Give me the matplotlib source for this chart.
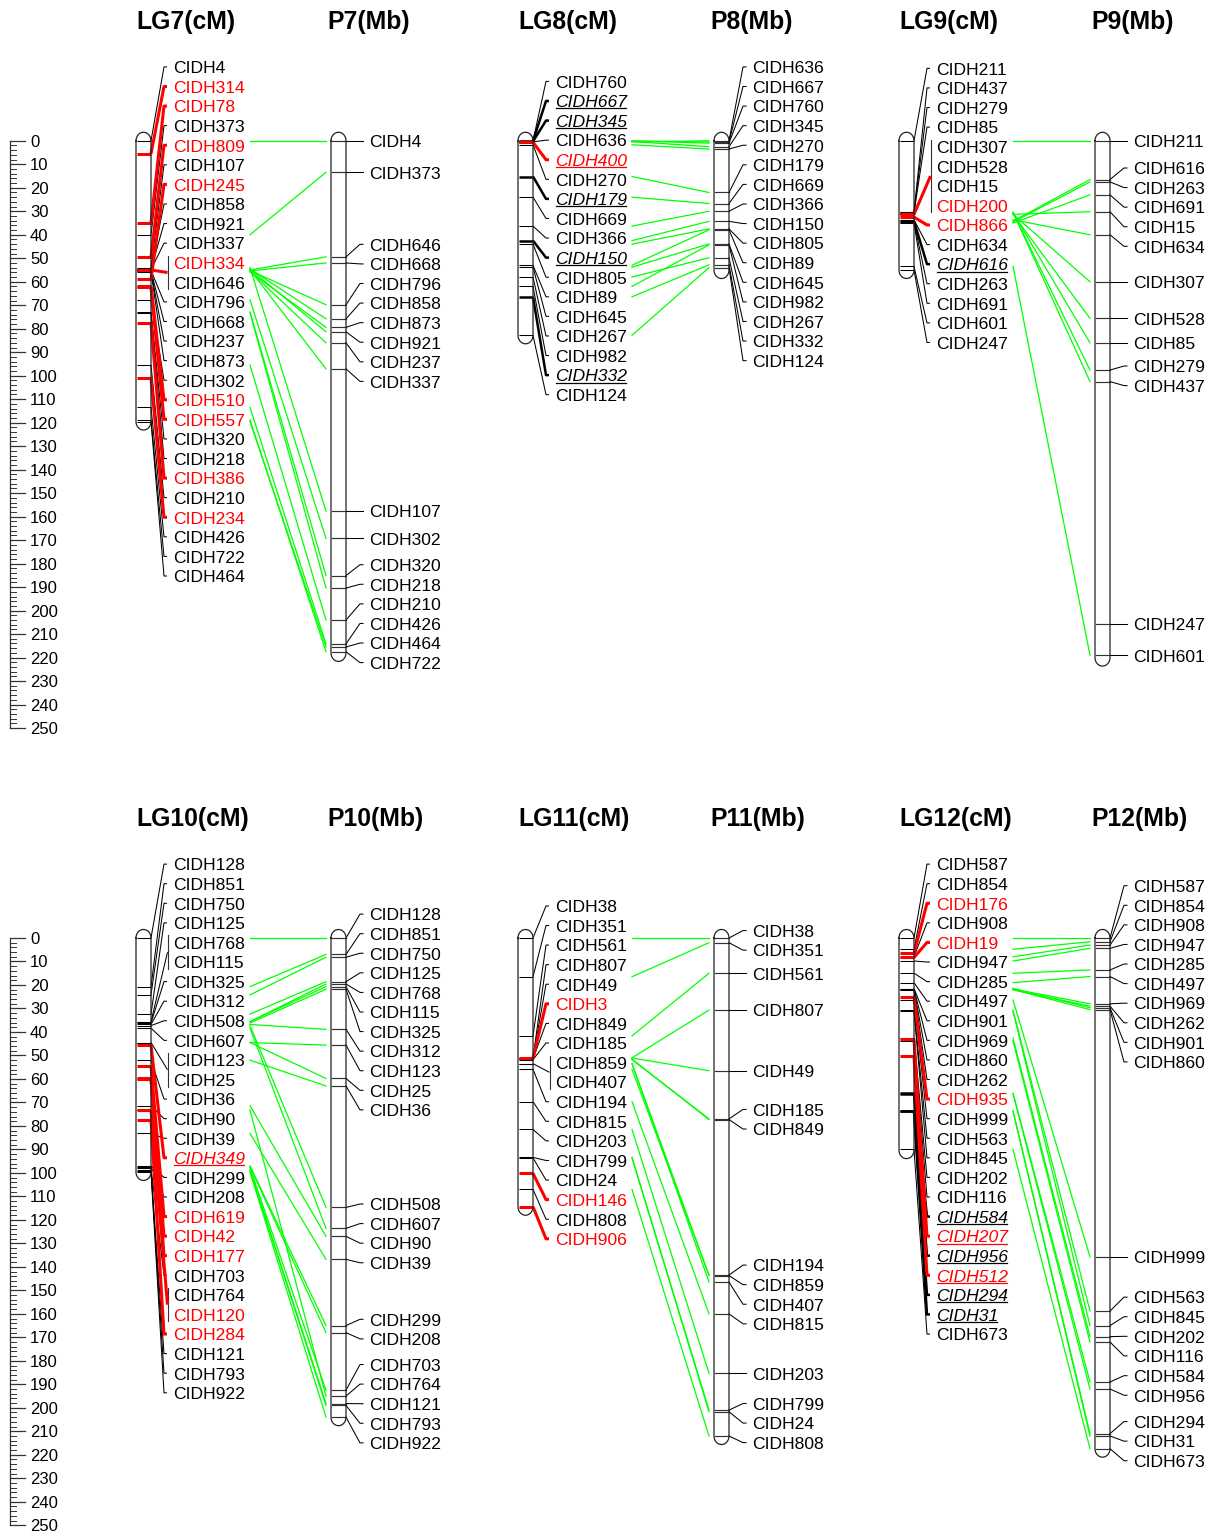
import numpy as np
import matplotlib
matplotlib.use('Agg')
import matplotlib.pyplot as plt

plt.rcParams['font.family'] = ['Liberation Sans', 'DejaVu Sans']

# ----- Datos: mapas de ligamiento (cM) y fisicos (Mb) -----
# tipo: n = normal, r = rojo, u = cursiva subrayada, ru = rojo cursiva subrayada
LG7_MARCADORES = ['CIDH4', 'CIDH314', 'CIDH78', 'CIDH373', 'CIDH809', 'CIDH107', 'CIDH245', 'CIDH858',
                  'CIDH921', 'CIDH337', 'CIDH334', 'CIDH646', 'CIDH796', 'CIDH668', 'CIDH237', 'CIDH873',
                  'CIDH302', 'CIDH510', 'CIDH557', 'CIDH320', 'CIDH218', 'CIDH386', 'CIDH210', 'CIDH234',
                  'CIDH426', 'CIDH722', 'CIDH464']
LG7_CM = [0, 5.5, 35, 40, 49.5, 54.0, 59, 54.5, 54.7, 54.9, 55.0, 55.0, 55.2, 55.4, 55.6, 55.8,
          67.7, 62, 62.3, 72.8, 73.2, 77.5, 95.4, 101, 113.5, 118.8, 119.5]
LG7_TIPO = ['n', 'r', 'r', 'n', 'r', 'n', 'r', 'n', 'n', 'n', 'r', 'n', 'n', 'n', 'n', 'n',
            'n', 'r', 'r', 'n', 'n', 'r', 'n', 'r', 'n', 'n', 'n']
LG7_LARGO = 119.5

P7_MARCADORES = ['CIDH4', 'CIDH373', 'CIDH646', 'CIDH668', 'CIDH796', 'CIDH858', 'CIDH873', 'CIDH921',
                 'CIDH237', 'CIDH337', 'CIDH107', 'CIDH302', 'CIDH320', 'CIDH218', 'CIDH210', 'CIDH426',
                 'CIDH464', 'CIDH722']
P7_MB = [0, 1.34, 4.94, 5.2, 6.98, 7.58, 7.94, 8.13, 8.6, 9.71, 15.76, 16.93, 18.51, 19.04, 20.4,
         21.42, 21.55, 21.75]
P7_LARGO = 21.8

LG8_MARCADORES = ['CIDH760', 'CIDH667', 'CIDH345', 'CIDH636', 'CIDH400', 'CIDH270', 'CIDH179', 'CIDH669',
                  'CIDH366', 'CIDH150', 'CIDH805', 'CIDH89', 'CIDH645', 'CIDH267', 'CIDH982', 'CIDH332',
                  'CIDH124']
LG8_CM = [0, 0.15, 0.3, 0.45, 0.6, 1.7, 15.2, 24, 36.3, 42.5, 44, 53, 53.8, 58, 62, 66.4, 82.8]
LG8_TIPO = ['n', 'u', 'u', 'n', 'ru', 'n', 'u', 'n', 'n', 'u', 'n', 'n', 'n', 'n', 'n', 'u', 'n']
LG8_LARGO = 82.8

P8_MARCADORES = ['CIDH636', 'CIDH667', 'CIDH760', 'CIDH345', 'CIDH270', 'CIDH179', 'CIDH669', 'CIDH366',
                 'CIDH150', 'CIDH805', 'CIDH89', 'CIDH645', 'CIDH982', 'CIDH267', 'CIDH332', 'CIDH124']
P8_MB = [0, 0.05, 0.1, 0.25, 0.35, 2.2, 2.67, 3.0, 3.43, 3.75, 3.79, 4.39, 4.43, 4.98, 5.28, 5.4]
P8_LARGO = 5.5

LG9_MARCADORES = ['CIDH211', 'CIDH437', 'CIDH279', 'CIDH85', 'CIDH307', 'CIDH528', 'CIDH15', 'CIDH200',
                  'CIDH866', 'CIDH634', 'CIDH616', 'CIDH263', 'CIDH691', 'CIDH601', 'CIDH247']
LG9_CM = [0, 30.4, 30.5, 30.6, 31.3, 31.3, 31.3, 31.3, 32.5, 33.6, 34.2, 34.6, 35.0, 53.5, 55.0]
LG9_TIPO = ['n', 'n', 'n', 'n', 'n', 'n', 'n', 'r', 'r', 'n', 'u', 'n', 'n', 'n', 'n']
LG9_LARGO = 55.0

P9_MARCADORES = ['CIDH211', 'CIDH616', 'CIDH263', 'CIDH691', 'CIDH15', 'CIDH634', 'CIDH307', 'CIDH528',
                 'CIDH85', 'CIDH279', 'CIDH437', 'CIDH247', 'CIDH601']
P9_MB = [0, 1.65, 1.75, 2.3, 3.02, 4.0, 6.0, 7.56, 8.6, 9.76, 10.25, 20.57, 21.9]
P9_LARGO = 22.0

LG10_MARCADORES = ['CIDH128', 'CIDH851', 'CIDH750', 'CIDH125', 'CIDH768', 'CIDH115', 'CIDH325', 'CIDH312',
                   'CIDH508', 'CIDH607', 'CIDH123', 'CIDH25', 'CIDH36', 'CIDH90', 'CIDH39', 'CIDH349',
                   'CIDH299', 'CIDH208', 'CIDH619', 'CIDH42', 'CIDH177', 'CIDH703', 'CIDH764', 'CIDH120',
                   'CIDH284', 'CIDH121', 'CIDH793', 'CIDH922']
LG10_CM = [0, 20.7, 24.2, 32.4, 35.6, 35.6, 36.2, 36.8, 37.3, 38.4, 44.5, 44.5, 52, 71.4, 83.2, 45.6,
           97, 97.3, 54.5, 59.6, 60.0, 97.8, 73.2, 73.2, 77.5, 98.6, 99.1, 99.6]
LG10_TIPO = ['n', 'n', 'n', 'n', 'n', 'n', 'n', 'n', 'n', 'n', 'n', 'n', 'n', 'n', 'n', 'ru',
             'n', 'n', 'r', 'r', 'r', 'n', 'n', 'r', 'r', 'n', 'n', 'n']
LG10_LARGO = 99.6

P10_MARCADORES = ['CIDH128', 'CIDH851', 'CIDH750', 'CIDH125', 'CIDH768', 'CIDH115', 'CIDH325', 'CIDH312',
                  'CIDH123', 'CIDH25', 'CIDH36', 'CIDH508', 'CIDH607', 'CIDH90', 'CIDH39', 'CIDH299',
                  'CIDH208', 'CIDH703', 'CIDH764', 'CIDH121', 'CIDH793', 'CIDH922']
P10_MB = [0, 0.7, 0.82, 1.86, 1.96, 2.07, 2.18, 3.89, 4.56, 5.98, 6.3, 11.47, 12.36, 12.7, 13.68,
          16.5, 16.8, 19.25, 19.5, 19.82, 19.9, 20.4]
P10_LARGO = 20.4

LG11_MARCADORES = ['CIDH38', 'CIDH351', 'CIDH561', 'CIDH807', 'CIDH49', 'CIDH3', 'CIDH849', 'CIDH185',
                   'CIDH859', 'CIDH407', 'CIDH194', 'CIDH815', 'CIDH203', 'CIDH799', 'CIDH24', 'CIDH146',
                   'CIDH808', 'CIDH906']
LG11_CM = [0, 16.5, 41.7, 51.0, 51.1, 51.2, 51.5, 51.8, 53.5, 53.5, 55.9, 69.7, 81.5, 93.4, 93.6,
           100.2, 107, 114.4]
LG11_TIPO = ['n', 'n', 'n', 'n', 'n', 'r', 'n', 'n', 'n', 'n', 'n', 'n', 'n', 'n', 'n', 'r', 'n', 'r']
LG11_LARGO = 114.4

P11_MARCADORES = ['CIDH38', 'CIDH351', 'CIDH561', 'CIDH807', 'CIDH49', 'CIDH185', 'CIDH849', 'CIDH194',
                  'CIDH859', 'CIDH407', 'CIDH815', 'CIDH203', 'CIDH799', 'CIDH24', 'CIDH808']
P11_MB = [0, 0.2, 1.5, 3.07, 5.65, 7.7, 7.73, 14.35, 14.37, 14.65, 16.0, 18.53, 20.1, 20.17, 21.2]
P11_LARGO = 21.2

LG12_MARCADORES = ['CIDH587', 'CIDH854', 'CIDH176', 'CIDH908', 'CIDH19', 'CIDH947', 'CIDH285', 'CIDH497',
                   'CIDH901', 'CIDH969', 'CIDH860', 'CIDH262', 'CIDH935', 'CIDH999', 'CIDH563', 'CIDH845',
                   'CIDH202', 'CIDH116', 'CIDH584', 'CIDH207', 'CIDH956', 'CIDH512', 'CIDH294', 'CIDH31',
                   'CIDH673']
LG12_CM = [0, 4.8, 6.5, 8.0, 8.3, 9.8, 15, 19, 21.5, 21.7, 21.9, 22.1, 25, 26.4, 30.7, 31.2,
           42.6, 43.8, 66, 43, 66.3, 50.4, 73.5, 73.8, 90]
LG12_TIPO = ['n', 'n', 'r', 'n', 'r', 'n', 'n', 'n', 'n', 'n', 'n', 'n', 'r', 'n', 'n', 'n',
             'n', 'n', 'u', 'ru', 'u', 'ru', 'u', 'u', 'n']
LG12_LARGO = 90.3

P12_MARCADORES = ['CIDH587', 'CIDH854', 'CIDH908', 'CIDH947', 'CIDH285', 'CIDH497', 'CIDH969', 'CIDH262',
                  'CIDH901', 'CIDH860', 'CIDH999', 'CIDH563', 'CIDH845', 'CIDH202', 'CIDH116', 'CIDH584',
                  'CIDH956', 'CIDH294', 'CIDH31', 'CIDH673']
P12_MB = [0, 0.16, 0.3, 0.44, 1.36, 1.64, 2.8, 2.9, 2.97, 3.05, 13.58, 15.88, 16.5, 16.97, 17.2,
          18.9, 19.2, 21.1, 21.2, 21.74]
P12_LARGO = 21.74

# marcadores comunes sin linea verde dibujada
SIN_ENLACE = ['CIDH247']

# ----- Configuracion de dibujo -----
PX_CM = 2.349          # pixeles por cM
ANCHO = 15             # ancho del cromosoma (px)
SEP = 19.58 / PX_CM    # separacion minima entre etiquetas
LIM_SUP = -31.45       # limite superior de las etiquetas
MB_A_UNIDAD = 10.0     # 1 Mb se dibuja como 10 unidades
ROJO = '#ff0000'
VERDE = '#00ff00'
FS = 12.6
X_LG = [136, 518, 899]
X_P = [331, 714, 1095]

fig = plt.figure(figsize=(12.17, 15.35), dpi=100)
ALTO = 1535


def px(v):
    return v / PX_CM


def crear_eje(px0, px1, cero):
    ax = fig.add_axes([0, 1 - px1 / ALTO, 1, (px1 - px0) / ALTO])
    ax.set_xlim(0, 1217)
    ax.set_ylim((px1 - cero) / PX_CM, (px0 - cero) / PX_CM)
    ax.axis('off')
    return ax


def colocar_etiquetas(pos):
    # agrupa etiquetas solapadas y centra cada grupo entre su primer y ultimo marcador
    grupos = [[i, i] for i in range(len(pos))]
    while True:
        ys = []
        for a, b in grupos:
            seg = pos[a:b + 1]
            y0 = (min(seg) + max(seg)) / 2 - (b - a) * SEP / 2
            ys.append(max(y0, LIM_SUP))
        fusion = False
        for k in range(len(grupos) - 1):
            a, b = grupos[k]
            if ys[k + 1] < ys[k] + (b - a) * SEP + SEP - 1e-6:
                grupos[k] = [a, grupos[k + 1][1]]
                del grupos[k + 1]
                fusion = True
                break
        if not fusion:
            break
    salida = []
    for (a, b), y0 in zip(grupos, ys):
        salida += [y0 + j * SEP for j in range(b - a + 1)]
    return salida


def dibujar_cromosoma(ax, x0, largo):
    rx = ANCHO / 2
    ry = px(8.5)
    xc = x0 + rx
    t1 = np.linspace(np.pi, 0, 40)
    t2 = np.linspace(0, -np.pi, 40)
    xs = np.concatenate([[x0], xc + rx * np.cos(t1), xc + rx * np.cos(t2)])
    ys = np.concatenate([[0], largo + ry * np.sin(t1), ry * np.sin(t2)])
    ax.fill(xs, ys, color='white', zorder=1)
    ax.plot(xs, ys, color='#222222', lw=0.9, zorder=4)


def estilo(tipo):
    if 'r' in tipo:
        return ROJO, 2.2
    if 'u' in tipo:
        return 'black', 1.8
    return 'black', 0.75


subrayados = []


def dibujar_lg(ax, x0, nombres, cm, tipos, largo):
    dibujar_cromosoma(ax, x0, largo)
    cr = x0 + ANCHO
    n = len(nombres)
    orden = sorted(range(n), key=lambda i: ('r' in tipos[i], 'u' in tipos[i]))
    for i in orden:
        col, lw = estilo(tipos[i])
        ax.plot([x0 + 0.5, cr], [cm[i], cm[i]], color=col, lw=lw, zorder=2, solid_capstyle='butt')
    ys = colocar_etiquetas(cm)
    grupos = []
    i = 0
    while i < n:
        j = i
        while j + 1 < n and cm[j + 1] == cm[i]:
            j += 1
        grupos.append((i, j))
        i = j + 1
    lineas = []
    for a, b in grupos:
        ts = tipos[a:b + 1]
        tg = 'r' if any('r' in t for t in ts) else ('u' if any('u' in t for t in ts) else 'n')
        if a == b:
            xs, yy = [cr, cr + 13, cr + 16], [cm[a], ys[a], ys[a]]
        else:
            xs, yy = [cr, cr + 16.5], [cm[a], (ys[a] + ys[b]) / 2]
            ax.plot([cr + 16.5, cr + 16.5], [ys[a] - px(7), ys[b] + px(7)], color='#333333', lw=0.8)
        lineas.append((tg, xs, yy))
    lineas.sort(key=lambda l: ('r' in l[0], 'u' in l[0]))
    for tg, xs, yy in lineas:
        col, lw = estilo(tg)
        ax.plot(xs, yy, color=col, lw=lw, zorder=3, solid_capstyle='butt')
    for k in range(n):
        col = ROJO if 'r' in tipos[k] else 'black'
        t = ax.text(cr + 22, ys[k] + px(6.3), nombres[k], color=col, fontsize=FS, va='baseline',
                    style='italic' if 'u' in tipos[k] else 'normal')
        if 'u' in tipos[k]:
            subrayados.append((ax, t, col))


def dibujar_p(ax, x0, nombres, mb, largo):
    pos = [m * MB_A_UNIDAD for m in mb]
    dibujar_cromosoma(ax, x0, largo * MB_A_UNIDAD)
    cr = x0 + ANCHO
    for y in pos:
        ax.plot([x0 + 0.5, cr], [y, y], color='#333333', lw=0.85, zorder=2)
    ys = colocar_etiquetas(pos)
    for k in range(len(nombres)):
        ax.plot([cr, cr + 14, cr + 17], [pos[k], ys[k], ys[k]], color='black', lw=0.75, zorder=3)
        ax.text(cr + 23, ys[k] + px(6.3), nombres[k], fontsize=FS, va='baseline')


def dibujar_enlaces(ax, xl, nombres_lg, cm, xp, nombres_p, mb):
    for nom, y in zip(nombres_lg, cm):
        if nom in nombres_p and nom not in SIN_ENLACE:
            yp = mb[nombres_p.index(nom)] * MB_A_UNIDAD
            ax.plot([xl + 114, xp - 5], [y, yp], color=VERDE, lw=0.9, zorder=0)


def dibujar_escala(ax):
    ax.plot([10, 10], [0, 250], color='#333333', lw=0.9)
    for v in range(0, 251, 2):
        mayor = v % 10 == 0
        ax.plot([10, 25 if mayor else 16], [v, v], color='#333333', lw=0.9 if mayor else 0.7)
    for v in range(0, 251, 10):
        ax.text(30, v + px(6), str(v), fontsize=12, va='baseline')


ax_sup = crear_eje(0, 768, 140.8)
ax_inf = crear_eje(768, 1535, 938)

filas = [
    (ax_sup, [('7', LG7_MARCADORES, LG7_CM, LG7_TIPO, LG7_LARGO, P7_MARCADORES, P7_MB, P7_LARGO),
              ('8', LG8_MARCADORES, LG8_CM, LG8_TIPO, LG8_LARGO, P8_MARCADORES, P8_MB, P8_LARGO),
              ('9', LG9_MARCADORES, LG9_CM, LG9_TIPO, LG9_LARGO, P9_MARCADORES, P9_MB, P9_LARGO)]),
    (ax_inf, [('10', LG10_MARCADORES, LG10_CM, LG10_TIPO, LG10_LARGO, P10_MARCADORES, P10_MB, P10_LARGO),
              ('11', LG11_MARCADORES, LG11_CM, LG11_TIPO, LG11_LARGO, P11_MARCADORES, P11_MB, P11_LARGO),
              ('12', LG12_MARCADORES, LG12_CM, LG12_TIPO, LG12_LARGO, P12_MARCADORES, P12_MB, P12_LARGO)]),
]

for ax, pares in filas:
    dibujar_escala(ax)
    for (num, nl, cm, tip, ll, npf, mb, lp), xl, xp in zip(pares, X_LG, X_P):
        dibujar_enlaces(ax, xl, nl, cm, xp, npf, mb)
        dibujar_lg(ax, xl, nl, cm, tip, ll)
        dibujar_p(ax, xp, npf, mb, lp)
        ax.text(xl, -47.6, f'LG{num}(cM)', fontsize=17.8, fontweight='bold', va='baseline')
        ax.text(xp - 4, -47.6, f'P{num}(Mb)', fontsize=17.8, fontweight='bold', va='baseline')

# subrayado de los marcadores en cursiva
fig.canvas.draw()
rend = fig.canvas.get_renderer()
for ax, t, col in subrayados:
    bb = t.get_window_extent(rend)
    inv = ax.transData.inverted()
    xa, ya = inv.transform((bb.x0 + 1, bb.y0 + 1.8))
    xb, _ = inv.transform((bb.x1 - 1, bb.y0 + 1.8))
    ax.plot([xa, xb], [ya, ya], color=col, lw=0.9)

fig.savefig('out.png', dpi=100)
